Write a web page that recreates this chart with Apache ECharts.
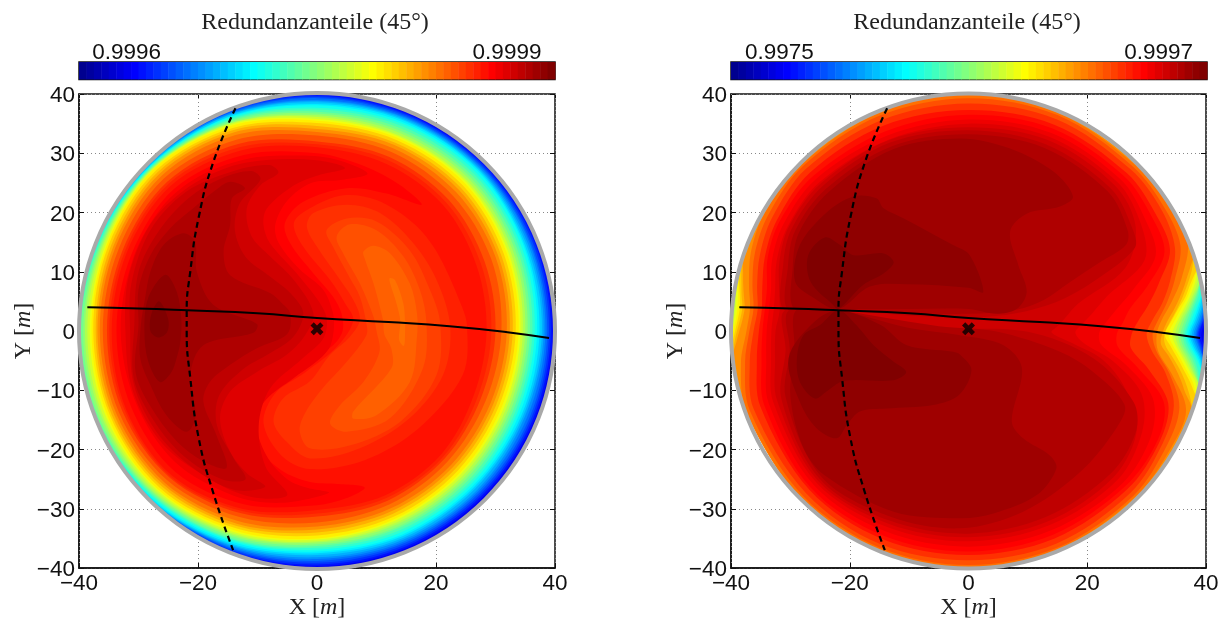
<!DOCTYPE html>
<html><head><meta charset="utf-8">
<script src="https://cdn.jsdelivr.net/npm/echarts@6/dist/echarts.min.js"></script>
<style>html,body{margin:0;background:#fff}#c{width:1225px;height:622px}</style></head>
<body><div id="c"></div>
<script>
// ---------- tick labels and axis ranges ----------
const xTicks=[-40,-20,0,20,40];
const yTicks=[-40,-30,-20,-10,0,10,20,30,40];
const titleText='Redundanzanteile (45°)';
const barLeftTicks=[0.9996,0.9999];
const barLeftRange=[0.99956237,0.99993785];
const barRightTicks=[0.9975,0.9997];
const barRightRange=[0.99722,0.99998];

// ---------- overlay curves (metres) ----------
const flightPath=[[-38.6,4],[-30,3.8],[-21.8,3.5],[-10,3],[0,2.2],[12,1.5],[22.3,0.8],[32,-0.2],[39,-1.2]];
const crossPath=[[-13.7,37.6],[-17.4,28.6],[-19.9,19.1],[-21.3,10],[-21.9,3.3],[-21.9,-0.1],[-21.3,-7.9],[-19.9,-18],[-17.5,-27.1],[-14.1,-37]];
const stationPoint=[[0,0.4]];

// ---------- left panel: rim contours, radius (m) per angle (deg) for each colour step ----------
const leftAngles=[0,22.5,45,67.5,90,112.5,135,157.5,180,202.5,225,247.5,270,292.5,315,337.5];
const leftRim=[
[4,[40,40,40,40,40,40,40,40,40,40,40,40,40,40,40,40]],
[6,[39.9,40,40,40,40,40,40,40,40,40,40,40,39.9,39.9,39.8,39.8]],
[8,[39.6,39.8,39.8,39.8,39.9,40,40,40,40,40,40,40,39.7,39.6,39.5,39.5]],
[10,[39.3,39.5,39.6,39.6,39.7,40,40,40,40,40,40,39.9,39.4,39.3,39.2,39.2]],
[12,[39,39.2,39.4,39.4,39.5,39.9,40,40,40,40,40,39.7,39.1,39,38.9,38.9]],
[14,[38.7,38.9,39.2,39.2,39.3,39.7,40,40,40,40,40,39.5,38.8,38.7,38.6,38.6]],
[16,[38.4,38.7,39,39,39,39.6,39.9,40,40,40,40,39.3,38.5,38.4,38.3,38.2]],
[18,[38.1,38.4,38.8,38.8,38.8,39.4,39.8,40,40,40,40,39.1,38.2,38.1,38,37.8]],
[20,[37.8,38.1,38.6,38.6,38.6,39.3,39.7,39.9,40,40,39.9,38.9,37.8,37.8,37.6,37.5]],
[22,[37.4,37.8,38.4,38.4,38.3,39.1,39.6,39.9,40,40,39.8,38.7,37.5,37.5,37.3,37.2]],
[24,[37,37.6,38.2,38.1,38.1,39,39.5,39.8,40,40,39.6,38.4,37.2,37.2,37,36.8]],
[26,[36.6,37.2,37.8,37.8,37.7,38.8,39.4,39.7,40,40,39.4,38.2,36.9,36.8,36.6,36.4]],
[28,[36.2,36.8,37.4,37.4,37.4,38.6,39.3,39.5,40,40,39.2,38,36.6,36.4,36.2,36]],
[30,[35.8,36.4,37,37,37,38.4,39.2,39.3,39.7,39.7,39,37.8,36.3,36,35.8,35.6]],
[32,[35.4,36,36.6,36.6,36.7,38.2,39.1,39.1,39.3,39.4,38.8,37.5,36,35.7,35.4,35.2]],
[34,[35,35.6,36.2,36.2,36.4,38,39,38.9,39,39,38.6,37.2,35.7,35.3,35,34.8]],
[36,[34.6,35.2,35.8,35.8,36.1,37.9,38.9,38.7,38.6,38.7,38.3,37,35.5,35,34.6,34.4]],
[38,[34.2,34.8,35.5,35.6,35.8,37.7,38.8,38.4,38.2,38.3,38,36.7,35.2,34.6,34.2,34]],
[40,[33.9,34.5,35.2,35.3,35.5,37.5,38.7,38.2,37.9,38,37.8,36.4,35,34.3,33.9,33.6]],
[42,[33.4,34,34.7,34.9,35.1,37.1,38.3,37.9,37.6,37.6,37.4,36,34.5,33.9,33.4,33.1]],
[44,[32.9,33.5,34.2,34.4,34.6,36.7,37.9,37.5,37.2,37.3,37,35.6,34,33.4,32.9,32.6]],
[46,[32.4,33,33.7,34,34.1,36.3,37.5,37.1,36.9,36.9,36.6,35.2,33.5,32.9,32.4,32.1]],
[48,[31.9,32.5,33.1,33.4,33.6,35.8,37,36.7,36.5,36.5,36.2,34.7,33,32.4,31.9,31.6]],
[50,[31,31.7,32.3,32.7,33,35,36.4,36.1,36,36,35.6,34,32.3,31.7,31.1,30.7]],
[52,[30,30.5,31.3,31.8,32,34.2,35.6,35.4,35.3,35.4,35,33.3,31.3,31,30.4,29.8]],
[53,[29.3,29.8,30.7,31.2,31.5,33.6,35.2,35,34.9,35,34.8,32.9,30.8,30.5,30,29.2]],
[54,[28.5,29,30,30.5,31,33,34.7,34.6,34.5,34.7,34.5,32.5,30.2,30,29.5,28.5]]
];
// ---------- left panel: inner contours, [x,y] in metres ----------
const leftInner=[
[55,[[17.6,21.3],[14,24.6],[8,27.8],[0,30],[-12.3,29.7],[-24,24],[-31.2,12.9],[-33.7,0],[-31.2,-12.9],[-23.8,-23.8],[-12.1,-29.3],[0,-29.4],[5,-28.2],[8,-26.4],[3,-25.8],[-1.2,-25.5],[-6,-23.5],[-10,-19.5],[-11.3,-14.7],[-9.6,-11.3],[-5,-7.4],[-0.5,-4.5],[2.7,-2.4],[4.3,0],[4.1,3],[2.7,5.8],[-0.6,9.7],[-4.5,14.8],[-5.4,18.2],[-2.3,21.8],[5,24.1],[11.7,23.2]]],
[56,[[8.5,26.6],[3,29],[-4,29.6],[-12,29],[-20,26],[-26,21],[-31,12],[-33,0],[-30.5,-12],[-24,-22],[-14,-27.8],[-6,-29],[2,-27.3],[-1.5,-26.5],[-5,-25],[-8.5,-21],[-10.3,-15],[-8.5,-11.5],[-4,-8],[-0.5,-5.5],[2,-3],[2.8,0],[2.7,3],[1,7],[-3,10.5],[-6.5,15],[-7,18],[-5,22],[-1,25],[4,25.5]]],
[57,[[4.7,27.5],[0,28.8],[-8,28.9],[-15,27.6],[-22,24],[-28,18],[-31.7,9],[-32.2,0],[-31,-10],[-26,-19],[-18,-25],[-11,-28],[-5,-27.7],[-8.6,-23],[-9.8,-16],[-7.9,-9.7],[-2.4,-4.6],[1.2,-1],[1.4,3],[-2.8,9],[-7.9,14.8],[-9,18],[-8.4,20.7],[-4,24.5],[0,26.2]]],
[58,[[-6.5,26.7],[-8,28],[-14,27],[-22,23.5],[-28,17],[-31.2,8],[-31.4,0],[-30.8,-9],[-27,-17],[-21,-23],[-14,-26.8],[-8.7,-26.3],[-11.8,-24],[-14.6,-20.4],[-16.3,-14.7],[-14.6,-10.2],[-10.1,-6.9],[-5.1,-4],[-2,-0.7],[-0.6,3],[-3.9,8.6],[-7.9,12.6],[-11,16],[-11.8,20.7],[-9.5,24.6]]],
[59,[[-9.5,25.6],[-11,27],[-16,25.8],[-21.5,22.5],[-26.5,17],[-30,10],[-30.7,1],[-30.8,-8],[-27.5,-15],[-22.5,-21],[-16,-25],[-12,-25],[-14,-21.5],[-16.8,-16],[-16.5,-11],[-12.5,-6.5],[-8,-3.8],[-4,-1],[-2.3,3],[-4.5,6.4],[-7.9,9.2],[-12,12.5],[-13.8,17],[-13,21.5]]],
[60,[[-12.1,24.1],[-14.6,25.2],[-17.4,23.5],[-20.8,20.7],[-24.7,17.3],[-28,12.8],[-30,7],[-30,1],[-30.5,-6.9],[-28,-12.7],[-23.5,-18.7],[-19.1,-22],[-15.2,-23.1],[-16.9,-17.6],[-19.1,-11.9],[-18,-8.6],[-14.6,-5.7],[-10.1,-2.9],[-5,-0.5],[-4.5,3],[-5.9,4.7],[-7.9,6.4],[-14.6,9.4],[-15.7,13.4],[-14.6,17.9],[-14.3,22.4]]],
[61,[[-22.5,16.5],[-20.5,15.1],[-20.2,10],[-17.4,4.4],[-10.1,1.2],[-10.7,-0.3],[-19.1,-2.4],[-21.3,-7.4],[-20.4,-14.2],[-21.9,-17],[-25.3,-14.2],[-28,-9.1],[-29.7,-4.6],[-29.6,1],[-28.9,5.5],[-28,10],[-25.8,14.5]]],
[62,[[-25.5,9.5],[-23.6,6.7],[-22.8,2],[-23,-2],[-23.6,-4.6],[-24.5,-7],[-26.4,-8.6],[-28.4,-5],[-29,0],[-28.4,5.5]]],
[63,[[-26.5,5],[-25,2],[-25.2,-0.2],[-26.7,-1.1],[-28,0],[-27.8,3]]],
[53,[[-1.2,20.7],[4.4,22.9],[10,22.1],[16.2,18.2],[20.1,13.4],[24,5],[25.2,1],[24.5,-7.4],[17,-16.5],[8,-21.8],[-1.2,-23.3],[-6,-21],[-9,-15.5],[-7,-10.5],[-2,-7],[3.5,-2.5],[6.1,1.8],[4.7,4.7],[2.2,8.6],[-2.3,14.2],[-3.9,18.2]]],
[52,[[-0.6,19.9],[5,21.3],[10.6,19.9],[16.2,14.8],[20.1,8.6],[22.4,0.7],[21.2,-7.4],[15.6,-14.7],[7.2,-19.8],[-1.2,-21.5],[-5.1,-18.7],[-7.3,-15.3],[-5.7,-11.4],[-1.2,-8.5],[2.2,-4],[5.5,-1],[7.2,1.8],[6.4,4.7],[3.9,8.6],[0,14.2],[-1.7,17.6]]],
[51,[[1.6,17],[5,19],[10,18.5],[15.6,13.6],[19,6.9],[20.7,1.3],[20.1,-7.4],[14,-15.3],[5.6,-19.3],[-1.2,-19.8],[-2.9,-17],[-2.2,-14.2],[0.5,-10.2],[5,-5.2],[8.3,-0.7],[8.3,1.3],[7.2,5.8],[5.5,9],[2.7,14.2]]],
[50,[[3.3,15.9],[5.5,18],[10,17],[14.5,12.6],[17.3,6.9],[18.4,1.3],[17.8,-6.3],[12.3,-14.7],[5,-17],[2.2,-15.6],[3.9,-12.5],[7.8,-8.6],[10.5,-3.5],[10,0],[9.5,2.4],[7.2,8],[4.4,13.1]]],
[49,[[7.8,13.4],[9.5,14.4],[12.3,13.1],[15.6,8],[16.8,3],[16.8,-1],[15.6,-8.6],[10,-14.2],[6.1,-14.8],[6.1,-13.6],[12.5,-6.3],[12.5,-3],[11.3,-0.5],[11.1,1.8],[9.5,8],[8.1,12]]],
[48,[[12.2,8.9],[13.1,8.6],[14.5,4.7],[14.8,1.6],[14.8,-0.5],[14.6,-2.5],[13.8,-1.5],[14,1.6],[13.4,4.5],[12.3,8]]]
];

// ---------- right panel: rim contours ----------
const rightAngles=[-1,3,8,14,22,32,45,67.5,90,112.5,135,150,160,168,174,180,188,200,225,247.5,270,292.5,315,330,340,348,354];
const rightRim=[
[46,[40,40,40,40,40,40,40,40,40,40,40,40,40,40,40,40,40,40,40,40,40,40,40,40,40,40,40]],
[48,[31.7,32.5,34.5,37,39.8,39.8,39.7,39.8,39.9,39.8,39.8,39.7,39,37.8,37,37.4,38.7,39.8,39.9,39.9,40,39.9,39.7,39.4,39,35,32.1]],
[50,[31,31.9,33.7,35.8,38.5,39,39.2,39.4,39.3,39.3,39.4,39,38.3,37.2,36.4,36.9,38,39.2,39.4,39.5,39.5,39.5,39.3,38.6,37.8,34.6,31.8]],
[52,[30,30.9,32.9,35,37.5,38.4,38.6,38.7,38.4,38.5,38.7,38.2,37.4,36.4,35.7,36.2,37.2,38.5,38.7,38.9,38.7,38.8,38.6,37.8,36.8,33.9,31]],
[54,[27.5,28.5,30.5,33,36.6,37.2,37.7,37.7,37.3,37.5,37.8,37.3,36.5,35.5,35,35.3,36,37.3,37.9,38,37.8,37.9,37.8,37.2,35.8,31,27.5]],
[55,[25,26,27.5,31,35.6,36.4,37,37,36.5,36.5,37,36.8,36,34.7,34.5,34.7,35.2,36.6,37.5,37.4,37.2,37.2,37.2,36.8,35,29,25.3]],
[56,[22,23,25,28.5,34,35.2,36.2,36.2,35.7,35.7,36.3,36,35.2,34,33.8,34,34.4,35.8,36.8,36.6,36.4,36.4,36.5,35.5,33,27,22.5]],
[57,[18,19,21,24,32,34.2,35.5,35.5,35,35,35.5,35.2,34.4,33.3,33,33.2,33.6,35,36.2,35.8,35.5,35.5,35.5,33.8,31,25,19.5]],
[58,[14,15,16.5,19,28.5,33.2,34.8,34.9,34.4,34.9,35.2,35,33.9,32.6,32,32.5,32.9,34.3,35.8,35.2,34.8,34.8,34.7,32.8,28,23,17]]
];
// right panel: pinched wedges at the right rim (values below the rim colour)
const wedgeRightAngles=[22,18,15,12,9,6,3,-1,-4,-7,-10,-13,-16,-19,-23];
const wedgeRight=[
[44,[40,40,38.4,37.2,36,34.8,33.6,32.6,32.5,33.9,35.3,36.7,38,39.7,40]],
[42,[40,40,38.9,37.7,36.5,35.3,34.1,33,33.2,34.5,36,37.4,38.7,40,40]],
[40,[40,40,40,38.2,37,35.5,34.3,33.1,34,35.3,36.7,38.3,40,40,40]],
[38,[40,40,40,38.6,37.4,36,34.8,33.7,34.5,35.8,37.2,38.8,40,40,40]],
[36,[40,40,40,39,37.8,36.5,35.3,34.3,35,36.3,37.7,39.3,40,40,40]],
[34,[40,40,40,39.4,38.2,36.9,35.7,34.8,35.4,36.7,38.1,39.7,40,40,40]],
[32,[40,40,40,39.8,38.5,37.3,36.1,35.3,35.8,37.1,38.4,40,40,40,40]],
[30,[40,40,40,40,38.8,37.6,36.5,35.7,36.2,37.5,38.7,40,40,40,40]],
[28,[40,40,40,40,39,37.9,36.9,36.1,36.6,37.9,39,40,40,40,40]],
[26,[40,40,40,40,39.3,38.2,37.3,36.4,37,38.3,39.3,40,40,40,40]],
[24,[40,40,40,40,39.7,38.6,37.6,36.7,37.4,38.7,39.8,40,40,40,40]],
[22,[40,40,40,40,40,38.9,38,37,37.7,39,40,40,40,40,40]],
[20,[40,40,40,40,40,39.2,38.3,37.3,38,39.3,40,40,40,40,40]],
[18,[40,40,40,40,40,39.5,38.6,37.6,38.3,39.5,40,40,40,40,40]],
[16,[40,40,40,40,40,39.7,38.9,37.9,38.6,39.7,40,40,40,40,40]],
[14,[40,40,40,40,40,39.9,39.2,38.2,38.9,39.9,40,40,40,40,40]],
[12,[40,40,40,40,40,40,39.4,38.4,39.1,40,40,40,40,40,40]],
[10,[40,40,40,40,40,40,39.6,38.6,39.3,40,40,40,40,40,40]],
[8,[40,40,40,40,40,40,39.7,38.8,39.5,40,40,40,40,40,40]],
[6,[40,40,40,40,40,40,39.9,39.2,39.8,40,40,40,40,40,40]]
];
const wedgeLeftAngles=[158,162,165,168,171,174,177,180,183,186,190];
const wedgeLeft=[
[44,[40,40,39.3,38.8,38.3,37.9,38.1,38.6,39.2,39.9,40]],
[42,[40,40,39.6,39.1,38.7,38.3,38.5,39,39.5,40,40]],
[40,[40,40,40,39.5,39,38.7,38.9,39.3,39.8,40,40]],
[38,[40,40,40,39.8,39.3,39.1,39.2,39.6,40,40,40]],
[36,[40,40,40,40,39.6,39.4,39.5,39.8,40,40,40]],
[34,[40,40,40,40,39.8,39.6,39.7,40,40,40,40]],
[32,[40,40,40,40,39.9,39.8,39.9,40,40,40,40]]
];
// right panel: upper and lower lobes, [x,y] in metres
const rightInner=[
[59,[[28,14],[21,8.3],[14.8,4.9],[8,3],[1,2.3],[-8,2.5],[-15,3],[-21.9,3.6],[-31,3.5],[-31.2,11.3],[-29.8,17.2],[-24.5,24.5],[-13.2,31.8],[0,33.9],[13,31.5],[24,24],[27.6,17.3]]],
[59,[[9.8,-0.1],[-5,0.5],[-15,2],[-21.9,3.3],[-31,3.4],[-30.8,-3.2],[-31.5,-11.5],[-25,-25],[-13.3,-32],[0,-34.2],[13,-31.4],[24,-24],[28.2,-17],[27.8,-12],[21,-4.6]]],
[60,[[26.5,14.5],[22,11.5],[17,8.2],[12.6,5.2],[8,3.6],[0,2.9],[-10,3.1],[-21.9,3.7],[-30.3,3.5],[-30.4,11],[-29.2,16.9],[-24,24],[-12.9,31.2],[0,33.2],[12.8,30.9],[23.5,23.5],[26.8,17]]],
[60,[[4.7,-0.1],[-5,0.8],[-15,2.4],[-21.9,3.4],[-30.3,3.4],[-30.1,-3.2],[-30.8,-11.2],[-24.7,-24.7],[-13,-31.4],[-1.4,-33.3],[9.2,-30.5],[18.8,-23.8],[24.9,-16.4],[26.3,-12.5],[21,-6.9],[15.4,-3.5]]],
[61,[[-29.3,3.7],[-29.6,10.8],[-28.6,16.5],[-23.5,23.5],[-12.6,30.7],[-1.4,32.5],[7,30.8],[14.3,26.9],[17.6,22.7],[15.4,21],[9.8,19.8],[7,16.8],[8.4,11.1],[9.8,6.6],[8.1,3.7],[4.7,2.9],[0,3.7],[-10,3.7],[-21.9,3.7]]],
[61,[[-1.4,-0.7],[5.9,-2.4],[9,-6.3],[7.3,-15.3],[9.2,-18.1],[13.7,-21],[14.8,-23.2],[11.5,-27.7],[4.2,-30.8],[-1.4,-31.6],[-12.6,-30.5],[-24.3,-24.3],[-27.9,-19.5],[-30,-11],[-29.3,-3.1],[-29,3.5],[-21.9,3.5],[-10,0.5]]],
[62,[[-21.9,3.7],[-25.9,5.5],[-29.2,8.3],[-28.4,14.5],[-23.9,20],[-19.4,22.7],[-15.5,22.4],[-14.3,20.7],[-10.9,19],[-2.6,14.5],[0.2,12.8],[2.5,6.6],[0,7.3],[-10.4,7.9],[-16.6,7.5]]],
[62,[[-21.9,3.5],[-26,1.5],[-30.3,-4.6],[-28.4,-12],[-25.6,-16.4],[-22.2,-18.1],[-20.5,-15.9],[-18.3,-13.6],[-13.8,-13.1],[-6,-12.5],[-1.6,-10.8],[0.5,-6.6],[-1.4,-4],[-2.6,-3.5],[-10.4,-2.4],[-14.8,1]]],
[63,[[-21.9,3.7],[-22.8,4.4],[-26.6,8.3],[-27,12.8],[-24.2,15.8],[-21.6,14.5],[-19.4,12.8],[-14.3,13.1],[-12.6,11.6],[-14.3,9.7],[-17.7,7.8]]],
[63,[[-21.9,3.5],[-25,1],[-27.8,-0.7],[-28.9,-4.6],[-28.4,-8.6],[-25.9,-11.4],[-23.9,-10.2],[-21.6,-8.6],[-19.4,-8.3],[-12.6,-8.3],[-10.5,-6.9],[-12.6,-5.2],[-16,-2.4],[-18.9,1]]]
];

// ---------- jet colour map, 64 steps ----------
const jetSteps=64;
function jet(i){
  const b=i<=7?(i+9)/16:i<=23?1:i<=39?(39-i)/16:0;
  const g=i<8?0:i<=23?(i-7)/16:i<=39?1:(55-i)/16>0?(55-i)/16:0;
  const r=i<=23?0:i<=39?(i-23)/16:i<=55?1:(71-i)/16;
  return 'rgb('+Math.round(r*255)+','+Math.round(g*255)+','+Math.round(b*255)+')';}

function polarPts(angles,radii){return angles.map((a,k)=>[radii[k]*Math.cos(a*Math.PI/180),radii[k]*Math.sin(a*Math.PI/180)]);}
function wedgePts(angles,radii){
  const idx=[];angles.forEach((a,k)=>{if(radii[k]<40)idx.push(k);});
  const first=Math.max(0,idx[0]-1),last=Math.min(angles.length-1,idx[idx.length-1]+1);
  const pts=[];
  for(let k=first;k<=last;k++){pts.push(polarPts([angles[k]],[radii[k]])[0]);}
  for(let k=last-1;k>first;k--){pts.push(polarPts([angles[k]],[40])[0]);}
  return pts;}

const shapesA=[].concat(
  leftRim.map(r=>({level:r[0],pts:polarPts(leftAngles,r[1])})),
  leftInner.map(r=>({level:r[0],pts:r[1]})));
const shapesB=[].concat(
  rightRim.map(r=>({level:r[0],pts:polarPts(rightAngles,r[1])})),
  rightInner.map(r=>({level:r[0],pts:r[1]})),
  wedgeRight.map(r=>({level:r[0],pts:wedgePts(wedgeRightAngles,r[1])})),
  wedgeLeft.map(r=>({level:r[0],pts:wedgePts(wedgeLeftAngles,r[1])})));

const fontSans='"Liberation Sans",Arial,sans-serif';
const fontSerif='"Liberation Serif","DejaVu Serif",serif';
const labelSize=22.5, nameSize=24;
const minus=v=>String(v).replace('-','\u2212');
const rich={i:{fontFamily:fontSerif,fontStyle:'italic',fontSize:nameSize,color:'#222'}};

const panels=[{l:79,w:476,shapes:shapesA,barTicks:barLeftTicks,range:barLeftRange,cx:310},
              {l:731,w:475,shapes:shapesB,barTicks:barRightTicks,range:barRightRange,cx:962}];
const grid=[],xAxis=[],yAxis=[],series=[],title=[];
panels.forEach((p,n)=>{
  const g=n*2, b=n*2+1;
  grid.push({left:p.l,width:p.w,top:94,height:474,show:true,borderColor:'#111',borderWidth:1.5,backgroundColor:'#fff',outerBoundsMode:'none',containLabel:false});
  grid.push({left:p.l,width:p.w+(n?1:0),top:62,height:17.5,show:true,borderColor:'#111',borderWidth:1.5,backgroundColor:'transparent',outerBoundsMode:'none',containLabel:false});
  const xi=xAxis.length, yi=yAxis.length;
  xAxis.push({gridIndex:g,type:'value',min:-40,max:40,interval:20,position:'bottom',
    name:'X [{i|m}]',nameLocation:'middle',nameGap:28,nameMoveOverlap:false,
    nameTextStyle:{fontFamily:fontSerif,fontSize:nameSize,color:'#222',rich},
    axisLine:{show:true,onZero:false,lineStyle:{color:'#111',width:1.5}},
    axisTick:{show:true,inside:true,length:5,lineStyle:{color:'#111',width:1}},
    axisLabel:{show:true,fontFamily:fontSans,fontSize:labelSize,color:'#111',margin:4,formatter:minus,hideOverlap:false,showMinLabel:true,showMaxLabel:true},
    splitLine:{show:true,lineStyle:{type:[1,3],color:'#888',width:1}},z:1});
  yAxis.push({gridIndex:g,type:'value',min:-40,max:40,interval:10,position:'left',
    name:'Y [{i|m}]',nameLocation:'middle',nameGap:43,nameRotate:90,nameMoveOverlap:false,
    nameTextStyle:{fontFamily:fontSerif,fontSize:nameSize,color:'#222',rich},
    axisLine:{show:true,onZero:false,lineStyle:{color:'#111',width:1.5}},
    axisTick:{show:true,inside:true,length:5,lineStyle:{color:'#111',width:1}},
    axisLabel:{show:true,fontFamily:fontSans,fontSize:labelSize,color:'#111',margin:4,verticalAlign:'top',lineHeight:4,formatter:minus,showMinLabel:true,showMaxLabel:true},
    splitLine:{show:true,lineStyle:{type:[1,3],color:'#888',width:1}}});
  xAxis.push({gridIndex:g,type:'value',min:-40,max:40,interval:20,position:'top',
    axisLine:{show:false,onZero:false},axisTick:{show:true,inside:true,length:5,lineStyle:{color:'#111',width:1}},axisLabel:{show:false},splitLine:{show:false}});
  yAxis.push({gridIndex:g,type:'value',min:-40,max:40,interval:10,position:'right',
    axisLine:{show:false,onZero:false},axisTick:{show:true,inside:true,length:5,lineStyle:{color:'#111',width:1}},axisLabel:{show:false},splitLine:{show:false}});
  const xb=xAxis.length, yb=yAxis.length;
  xAxis.push({gridIndex:b,type:'value',min:p.range[0],max:p.range[1],position:'top',
    axisLine:{show:false,onZero:false},
    axisTick:{show:true,inside:true,length:3,customValues:p.barTicks,lineStyle:{color:'#111',width:1}},
    axisLabel:{show:true,customValues:p.barTicks,fontFamily:fontSans,fontSize:labelSize,color:'#111',margin:-2,formatter:v=>Number(v).toFixed(4)},
    splitLine:{show:false}});
  xAxis.push({gridIndex:b,type:'value',min:p.range[0],max:p.range[1],position:'bottom',
    axisLine:{show:false,onZero:false},
    axisTick:{show:true,inside:true,length:3,customValues:p.barTicks,lineStyle:{color:'#111',width:1}},
    axisLabel:{show:false},splitLine:{show:false}});
  yAxis.push({gridIndex:b,type:'value',min:0,max:1,show:false});

  title.push({text:titleText,left:p.cx,top:6,textAlign:'center',textStyle:{fontFamily:fontSerif,fontWeight:'normal',fontSize:nameSize,color:'#222'}});

  series.push({type:'custom',name:'contours'+n,xAxisIndex:xi,yAxisIndex:yi,coordinateSystem:'cartesian2d',silent:true,z:2,clip:false,
    data:p.shapes.map(s=>[s.pts[0][0],s.pts[0][1],s.level]),
    renderItem:(params,api)=>{const s=p.shapes[params.dataIndex];
      return {type:'polygon',shape:{points:s.pts.map(q=>api.coord(q)),smooth:0.33},style:{fill:jet(s.level)}};}});
  series.push({type:'custom',name:'rim'+n,xAxisIndex:xi,yAxisIndex:yi,coordinateSystem:'cartesian2d',silent:true,z:3,clip:false,
    data:[[0,0,40]],
    renderItem:(params,api)=>{const c=api.coord([0,0]);const r=api.size([api.value(2),0])[0];
      return {type:'circle',shape:{cx:c[0],cy:c[1],r:r},style:{fill:null,stroke:'#a9a9a9',lineWidth:4}};}});
  series.push({type:'line',xAxisIndex:xi,yAxisIndex:yi,data:flightPath,smooth:true,showSymbol:false,silent:true,z:4,lineStyle:{color:'#000',width:2}});
  series.push({type:'line',xAxisIndex:xi,yAxisIndex:yi,data:crossPath,smooth:true,showSymbol:false,silent:true,z:4,lineStyle:{color:'#000',width:2.2,type:[6,4]}});
  series.push({type:'scatter',xAxisIndex:xi,yAxisIndex:yi,data:stationPoint,silent:true,z:5,symbolSize:13,
    symbol:'path://M2.5,0 L5,2.5 L7.5,0 L10,2.5 L7.5,5 L10,7.5 L7.5,10 L5,7.5 L2.5,10 L0,7.5 L2.5,5 L0,2.5Z',itemStyle:{color:'#000'}});
  const cells=[];for(let i=0;i<jetSteps;i++)cells.push(i);
  series.push({type:'custom',name:'colorbar'+n,xAxisIndex:xb,yAxisIndex:yb,coordinateSystem:'cartesian2d',silent:true,z:2,
    data:cells.map(i=>[p.range[0]+(p.range[1]-p.range[0])*(i+0.5)/jetSteps,0.5,i]),
    renderItem:(params,api)=>{const i=api.value(2);const d=(p.range[1]-p.range[0])/jetSteps;
      const a=api.coord([p.range[0]+i*d,1]),c=api.coord([p.range[0]+(i+1)*d,0]);
      return {type:'rect',shape:{x:a[0],y:a[1],width:c[0]-a[0]+0.5,height:c[1]-a[1]},style:{fill:jet(i)}};}});
});
const chart=echarts.init(document.getElementById('c'),null,{renderer:'canvas'});
chart.setOption({animation:false,backgroundColor:'#fff',title,grid,xAxis,yAxis,series});
</script></body></html>
